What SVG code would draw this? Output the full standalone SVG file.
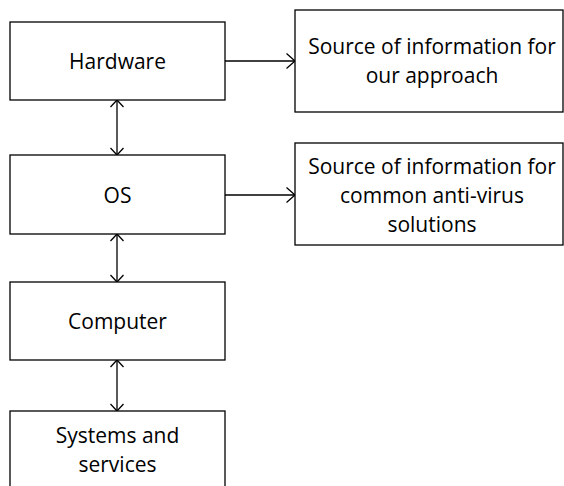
<svg xmlns="http://www.w3.org/2000/svg" width="564" height="486" viewBox="0 0 564 486">
<style>
rect{fill:#fff;stroke:#000;stroke-width:1.3}
text{font-family:"Open Sans","Liberation Sans",sans-serif;font-size:21px;fill:#000;text-anchor:middle}
.c{stroke:#000;stroke-width:1.3;fill:none}
</style>
<defs>
<marker id="ah" markerUnits="userSpaceOnUse" viewBox="-10 -9 12 18" markerWidth="12" markerHeight="18" refX="0" refY="0" orient="auto-start-reverse">
<path d="M-8.5,-7.5 L0,0 L-8.5,7.5" fill="none" stroke="#000" stroke-width="1.3"/>
</marker>
<marker id="av" markerUnits="userSpaceOnUse" viewBox="-10 -9 12 18" markerWidth="12" markerHeight="18" refX="0" refY="0" orient="auto-start-reverse">
<path d="M-7,-6.5 L0,0 L-7,6.5" fill="none" stroke="#000" stroke-width="1.3"/>
</marker>
</defs>
<g id="connectors">
<line class="c" x1="225" y1="61" x2="295" y2="61" marker-end="url(#ah)"/>
<line class="c" x1="225" y1="195" x2="295" y2="195" marker-end="url(#ah)"/>
<line class="c" x1="117" y1="100" x2="117" y2="155" marker-start="url(#av)" marker-end="url(#av)"/>
<line class="c" x1="117" y1="234" x2="117" y2="282" marker-start="url(#av)" marker-end="url(#av)"/>
<line class="c" x1="117" y1="360" x2="117" y2="411" marker-start="url(#av)" marker-end="url(#av)"/>
</g>
<g id="hardware"><rect x="10" y="22" width="215" height="78"/><text x="117.5" y="69">Hardware</text></g>
<g id="os"><rect x="10" y="155" width="215" height="79"/><text x="117.5" y="203">OS</text></g>
<g id="computer"><rect x="10" y="282" width="215" height="78"/><text x="117.5" y="329">Computer</text></g>
<g id="systems"><rect x="10" y="411" width="215" height="90"/><text x="117.5" y="443">Systems and</text><text x="117.5" y="472">services</text></g>
<g id="source-our"><rect x="295" y="10" width="268" height="102"/><text x="432" y="54">Source of information for</text><text x="432" y="83">our approach</text></g>
<g id="source-av"><rect x="295" y="143" width="268" height="102"/><text x="432" y="174">Source of information for</text><text x="432" y="203">common anti-virus</text><text x="432" y="232">solutions</text></g>
</svg>
